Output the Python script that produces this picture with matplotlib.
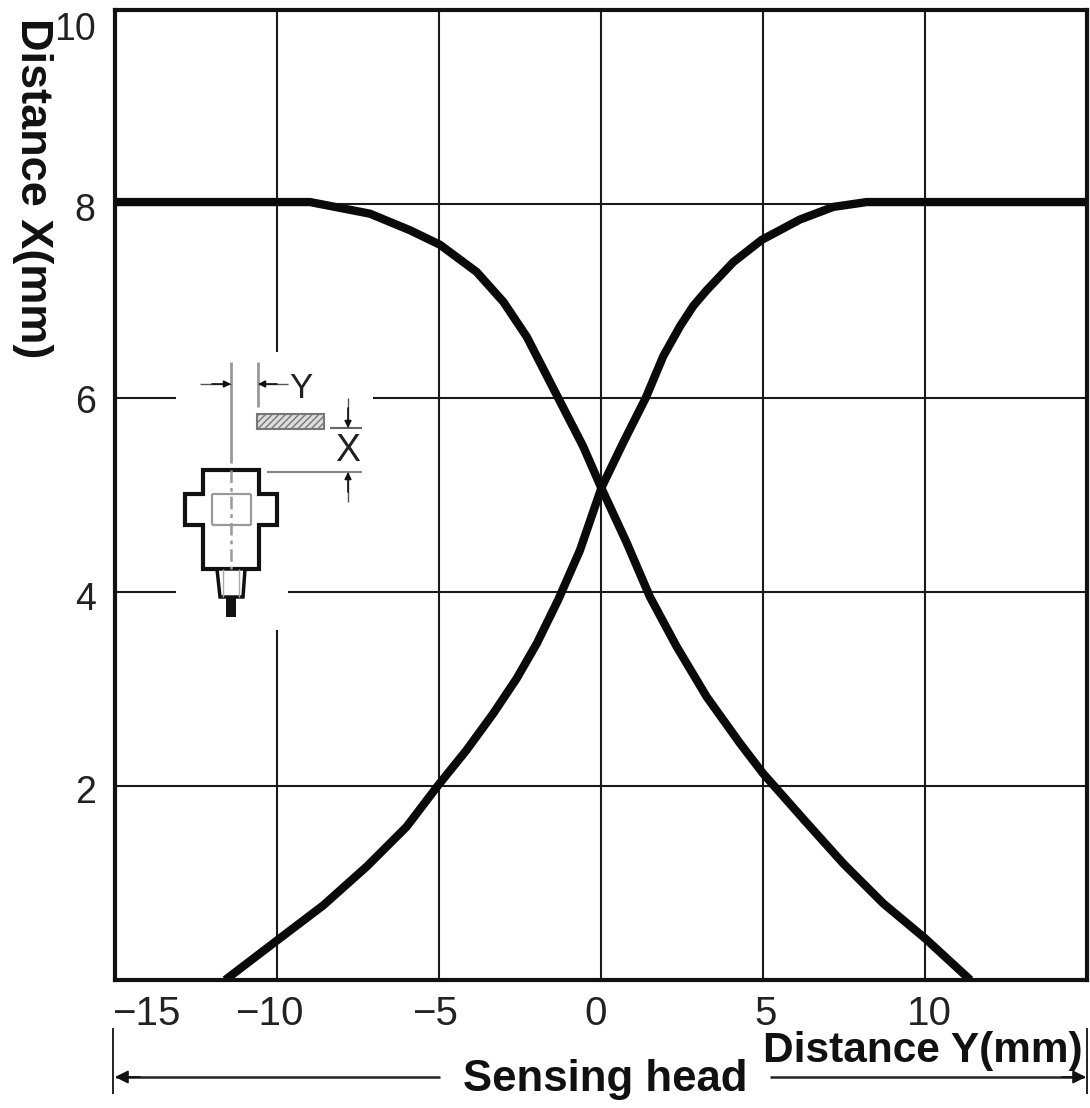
#!/usr/bin/env python3
import matplotlib
matplotlib.use('Agg')
import matplotlib.pyplot as plt
from matplotlib.patches import Rectangle, Polygon
from matplotlib.transforms import ScaledTranslation

plt.rcParams['font.family'] = ['Liberation Sans']

# values
y_rise = [-11.6, -9.99, -8.57, -7.23, -6.0, -5.02, -4.15, -3.32, -2.6, -1.98, -1.32, -0.65, 0.02, 0.7,
          1.38, 1.92, 2.44, 2.85, 3.26, 4.08, 4.96, 6.14, 7.17, 8.2, 15.0]
x_rise = [0.0, 0.41, 0.77, 1.17, 1.58, 2.01, 2.37, 2.75, 3.11, 3.47, 3.92, 4.43, 5.08, 5.55,
          6.0, 6.43, 6.74, 6.95, 7.11, 7.4, 7.63, 7.84, 7.97, 8.02, 8.02]
y_fall = [-15.0, -8.98, -7.13, -5.9, -4.97, -3.84, -3.01, -2.29, -1.32, -0.55, 0.0, 0.79, 1.51,
          2.33, 3.26, 4.29, 5.0, 6.35, 7.48, 8.71, 10.0, 11.4]
x_fall = [8.02, 8.02, 7.9, 7.73, 7.58, 7.3, 6.99, 6.63, 6.0, 5.5, 5.08, 4.51, 3.95,
          3.44, 2.92, 2.44, 2.13, 1.62, 1.2, 0.79, 0.43, 0.0]

y_ticks = [-15, -10, -5, 0, 5, 10]
y_tick_labels = ['\u221215', '\u221210', '\u22125', '0', '5', '10']
x_ticks = [2, 4, 6, 8, 10]

W, H = 1090, 1108

fig = plt.figure(figsize=(W / 100, H / 100), dpi=100)
ax = fig.add_axes([115 / W, 1 - 980 / H, (1087 - 115) / W, (980 - 10) / H])
ax.set_xlim(-15, 15)
ax.set_ylim(0, 10)
ax.grid(True, color='#1a1a1a', lw=1.5)
ax.set_axisbelow(True)
for s in ax.spines.values():
    s.set_linewidth(3.0)
    s.set_color('#111111')

ax.plot(y_rise, x_rise, color='#0a0a0a', lw=6, solid_capstyle='butt', solid_joinstyle='round')
ax.plot(y_fall, x_fall, color='#0a0a0a', lw=6, solid_capstyle='butt', solid_joinstyle='round')

ax.set_xticks(y_ticks)
ax.set_xticklabels(y_tick_labels, fontsize=29, color='#222222')
ax.set_yticks(x_ticks)
ax.set_yticklabels([str(v) for v in x_ticks], fontsize=27, color='#222222')
ax.tick_params(axis='both', length=0)
ax.tick_params(axis='x', pad=11)
ax.tick_params(axis='y', pad=14)

# labels do not sit centred on their grid lines in the original
x_shift = [31, -8, -4, -5, 3, 4]
for lab, dx in zip(ax.get_xticklabels(), x_shift):
    lab.set_transform(lab.get_transform() + ScaledTranslation(dx / 100, 0, fig.dpi_scale_trans))
y_shift = [-3, -4, -1, -3, -16]
for lab, dy in zip(ax.get_yticklabels(), y_shift):
    lab.set_transform(lab.get_transform() + ScaledTranslation(0, dy / 100, fig.dpi_scale_trans))

# overlay in image pixels for the sketch and the bottom notes
ov = fig.add_axes([0, 0, 1, 1], zorder=5)
ov.set_xlim(0, W)
ov.set_ylim(H, 0)
ov.axis('off')
ov.patch.set_alpha(0)


def line(xs, ys, lw=1.2, color='#222222', ls='-'):
    ov.plot(xs, ys, color=color, lw=lw, ls=ls, solid_capstyle='butt')


def arrow(tip, tail, color='#111111', size=10):
    ov.annotate('', xy=tip, xytext=tail,
                arrowprops=dict(arrowstyle='-|>', color=color, lw=1.2, mutation_scale=size,
                                shrinkA=0, shrinkB=0))


# white gap in the grid behind the sketch
ov.add_patch(Rectangle((176, 352), 197, 170, fc='white', ec='none'))
ov.add_patch(Rectangle((176, 520), 112, 110, fc='white', ec='none'))

# dimension lines
line([231, 231], [362, 463], lw=2.0, color='#999999')
line([258, 258], [362, 407], lw=2.0, color='#999999')
line([200, 231], [384, 384], lw=1.0, color='#555555')
arrow((231, 384), (212, 384))
line([258, 288], [384, 384], lw=1.0, color='#555555')
arrow((258, 384), (277, 384))
ov.text(301, 389, 'Y', fontsize=25, ha='center', va='center', color='#222222')
ov.add_patch(Rectangle((257, 414), 67, 15, fc='#dddddd', ec='#777777', lw=1.5, hatch='/////'))
line([330, 362], [428, 428], lw=1.5, color='#666666')
line([267, 362], [472, 472], lw=1.5, color='#888888')
ov.text(348, 451, 'X', fontsize=27, ha='center', va='center', color='#222222')
line([348, 348], [398, 428], lw=1.0, color='#555555')
arrow((348, 428), (348, 408))
line([348, 348], [472, 502], lw=1.0, color='#555555')
arrow((348, 472), (348, 492))

# sensor body
body = [(203, 470), (259, 470), (259, 494), (277, 494), (277, 525), (259, 525), (259, 569),
        (203, 569), (203, 525), (185, 525), (185, 494), (203, 494)]
ov.add_patch(Polygon(body, closed=True, fc='white', ec='#111111', lw=3.0))
ov.add_patch(Polygon([(217, 569), (245, 569), (243, 597), (220, 597)], closed=True, fc='white', ec='#111111', lw=2.5))
ov.add_patch(Rectangle((226, 597), 10, 20, fc='#111111', ec='none'))
line([212, 212], [494, 525], lw=1.6, color='#999999')
line([251, 251], [494, 525], lw=1.6, color='#999999')
line([212, 251], [494, 494], lw=1.6, color='#999999')
line([212, 251], [525, 525], lw=1.6, color='#999999')
line([231, 231], [470, 569], lw=1.8, color='#999999', ls=(0, (5, 2, 1.5, 2)))
line([223, 223], [569, 597], lw=1.0, color='#aaaaaa')
line([239, 239], [569, 597], lw=1.0, color='#aaaaaa')

# range bracket under the axis
line([113, 113], [1028, 1094], lw=1.4)
line([1087, 1087], [1028, 1094], lw=1.4)
line([116, 440], [1077, 1077], lw=1.8)
line([770, 1084], [1077, 1077], lw=1.8)
arrow((115, 1077), (140, 1077), size=20)
arrow((1086, 1077), (1062, 1077), size=20)

ov.text(605, 1080, 'Sensing head', fontsize=31.5, weight='bold',
        ha='center', va='center', color='#111111')
ov.text(923, 1051, 'Distance Y(mm)', fontsize=30.5, weight='bold',
        ha='center', va='center', color='#111111')
ov.text(32, 188, 'Distance X(mm)', fontsize=32.5, weight='bold', rotation=-90,
        ha='center', va='center', color='#111111')

fig.savefig('out.png', dpi=100)
